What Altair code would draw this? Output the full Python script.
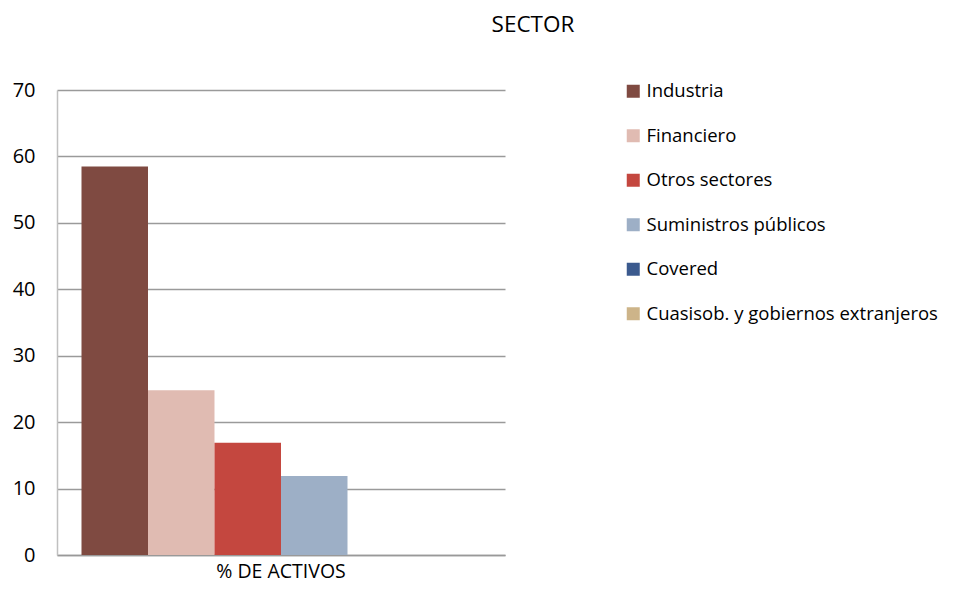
import altair as alt
import pandas as pd

sectors = ["Industria", "Financiero", "Otros sectores", "Suministros públicos",
           "Covered", "Cuasisob. y gobiernos extranjeros"]
values = [58.5, 24.8, 16.9, 11.9, 0.0, 0.0]
colors = ["#7F4A41", "#E0BBB2", "#C4473F", "#9DAFC6", "#3B5A8E", "#CDB489"]
category = "% DE ACTIVOS"

df = pd.DataFrame({"cat": [category] * len(sectors), "sector": sectors, "value": values})

FONT = "Open Sans"

chart = alt.Chart(df).mark_bar().encode(
    x=alt.X("cat:N", title=None,
            scale=alt.Scale(paddingInner=0, paddingOuter=0.0614),
            axis=alt.Axis(labelAngle=0, ticks=False, domain=True, domainColor="#999999",
                          domainWidth=1.5, labelFontSize=19.5, labelFont=FONT,
                          labelColor="#000000", labelPadding=7, grid=False)),
    xOffset=alt.XOffset("sector:N", sort=sectors,
                        scale=alt.Scale(paddingInner=0, paddingOuter=0)),
    y=alt.Y("value:Q", title=None,
            scale=alt.Scale(domain=[0, 70]),
            axis=alt.Axis(values=[0, 10, 20, 30, 40, 50, 60, 70], ticks=False,
                          domain=True, domainColor="#C0C0C0", domainWidth=1.5,
                          gridColor="#9A9A9A", gridWidth=1.3,
                          labelFontSize=20, labelFont=FONT, labelColor="#000000",
                          labelPadding=22)),
    color=alt.Color("sector:N", sort=sectors,
                    scale=alt.Scale(domain=sectors, range=colors),
                    legend=alt.Legend(title=None, orient="none", legendX=567, legendY=-8,
                                      symbolType="square", symbolSize=169,
                                      symbolStrokeWidth=0, labelFont=FONT,
                                      labelFontSize=18.5, labelColor="#000000",
                                      labelLimit=400, rowPadding=25.5, labelOffset=4)),
).properties(
    width=448, height=465,
    title=alt.TitleParams("SECTOR", font=FONT, fontSize=22.5, fontWeight="normal",
                          color="#000000", anchor="middle", dx=252, offset=44),
    autosize=alt.AutoSizeParams(type="none"),
    padding={"left": 49, "top": 82, "right": 436, "bottom": 28},
).configure_view(stroke=None)

chart.save("out.html", embed_options={"renderer": "svg", "actions": False})
